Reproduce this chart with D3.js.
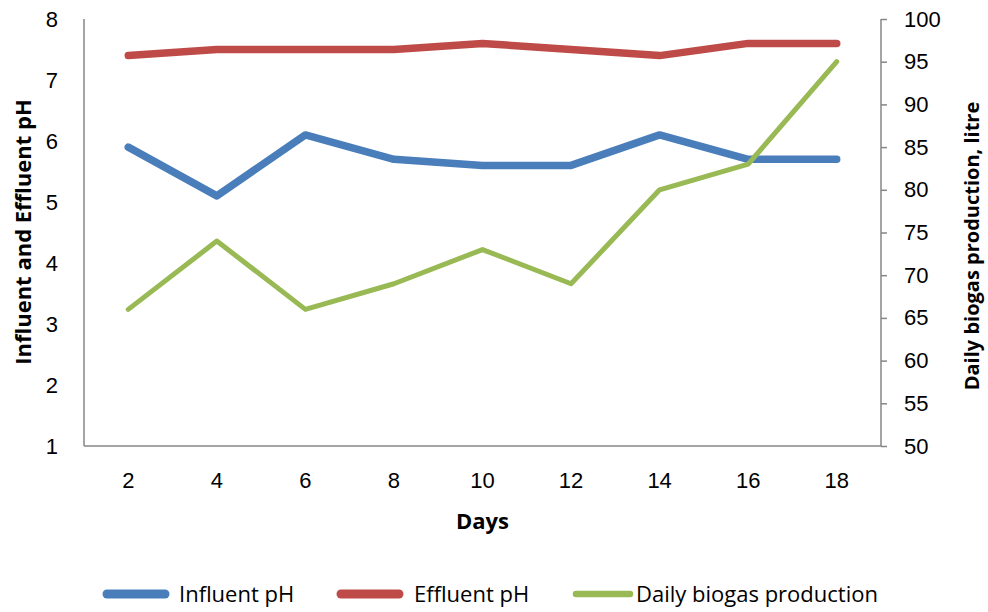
<!DOCTYPE html>
<html lang="en">
  <head>
    <meta charset="UTF-8" />
    <title>pH and biogas</title>
    <script src="https://d3js.org/d3.v7.min.js"></script>
    <style>
      body {
        margin: 0;
        background: #fff;
        font-family: "Open Sans", "Noto Sans", sans-serif;
      }
      .axis text {
        font-size: 22px;
        fill: #000;
      }
      .axis path,
      .axis line {
        stroke: #868686;
        stroke-width: 1.5px;
      }
      .title {
        font-weight: bold;
      }
      .line {
        fill: none;
        stroke-linejoin: round;
        stroke-linecap: round;
      }
    </style>
  </head>
  <body>
    <div id="chart"></div>
    <script>
      // data
      var days = [2, 4, 6, 8, 10, 12, 14, 16, 18];
      var influentPH = [5.9, 5.1, 6.1, 5.7, 5.6, 5.6, 6.1, 5.7, 5.7];
      var effluentPH = [7.4, 7.5, 7.5, 7.5, 7.6, 7.5, 7.4, 7.6, 7.6];
      var biogas = [66, 74, 66, 69, 73, 69, 80, 83, 95];
      var phTicks = [1, 2, 3, 4, 5, 6, 7, 8];
      var gasTicks = [50, 55, 60, 65, 70, 75, 80, 85, 90, 95, 100];

      var margin = { top: 19, right: 107, bottom: 166, left: 84 },
        width = 988 - margin.left - margin.right,
        height = 612 - margin.top - margin.bottom;

      var svg = d3
        .select("#chart")
        .append("svg")
        .attr("width", 988)
        .attr("height", 612);

      var g = svg
        .append("g")
        .attr("transform", "translate(" + margin.left + "," + margin.top + ")");

      var x = d3.scaleBand().domain(days).range([0, width]);
      var yL = d3.scaleLinear().domain([1, 8]).range([height, 0]);
      var yR = d3.scaleLinear().domain([50, 100]).range([height, 0]);

      // x axis
      var xAxis = g
        .append("g")
        .attr("class", "axis")
        .attr("transform", "translate(0," + height + ")")
        .call(d3.axisBottom(x).tickSize(0).tickPadding(26));
      xAxis.select(".domain").attr("d", "M0,0H" + width);

      // left axis, no tick marks
      var lAxis = g
        .append("g")
        .attr("class", "axis")
        .call(
          d3.axisLeft(yL)
            .tickValues(phTicks)
            .tickFormat(d3.format("d"))
            .tickSize(0)
            .tickPadding(26)
        );
      lAxis.select(".domain").attr("d", "M0,0V" + height);

      // right axis, ticks outside
      var rAxis = g
        .append("g")
        .attr("class", "axis")
        .attr("transform", "translate(" + width + ",0)")
        .call(d3.axisRight(yR).tickValues(gasTicks).tickSize(6).tickPadding(17));
      rAxis.select(".domain").attr("d", "M0,0V" + height);

      // axis titles
      g.append("text")
        .attr("class", "title")
        .attr("transform", "rotate(-90)")
        .attr("x", -213)
        .attr("y", -53)
        .attr("text-anchor", "middle")
        .style("font-size", "22px")
        .text("Influent and Effluent pH");

      g.append("text")
        .attr("class", "title")
        .attr("transform", "rotate(-90)")
        .attr("x", -227)
        .attr("y", width + 98)
        .attr("text-anchor", "middle")
        .style("font-size", "20px")
        .text("Daily biogas production, litre");

      g.append("text")
        .attr("class", "title")
        .attr("x", width / 2)
        .attr("y", height + 83)
        .attr("text-anchor", "middle")
        .style("font-size", "22px")
        .text("Days");

      var series = [
        { name: "Influent pH", values: influentPH, y: yL, color: "#4a7ebb", w: 7.5 },
        { name: "Effluent pH", values: effluentPH, y: yL, color: "#be4b48", w: 7.5 },
        { name: "Daily biogas production", values: biogas, y: yR, color: "#98b954", w: 5 }
      ];

      series.forEach(function (s) {
        var line = d3
          .line()
          .x(function (d, i) { return x(days[i]) + x.bandwidth() / 2; })
          .y(function (d) { return s.y(d); });
        g.append("path")
          .datum(s.values)
          .attr("class", "line")
          .attr("stroke", s.color)
          .attr("stroke-width", s.w)
          .attr("d", line);
      });

      // legend, fixed slots like the original
      var legendX = [107, 341, 576];
      var legendLen = [58, 58, 54];
      var legendGap = [72, 73, 60];
      var legend = svg
        .selectAll(".legend")
        .data(series)
        .enter()
        .append("g")
        .attr("class", "legend")
        .attr("transform", function (d, i) {
          return "translate(" + legendX[i] + ",594)";
        });

      legend
        .append("line")
        .attr("x1", 0)
        .attr("x2", function (d, i) { return legendLen[i]; })
        .attr("stroke", function (d) { return d.color; })
        .attr("stroke-width", function (d) { return d.w + 1.5; })
        .attr("stroke-linecap", "round");

      legend
        .append("text")
        .attr("x", function (d, i) { return legendGap[i]; })
        .attr("dy", "0.35em")
        .style("font-size", "22px")
        .text(function (d) { return d.name; });
    </script>
  </body>
</html>
